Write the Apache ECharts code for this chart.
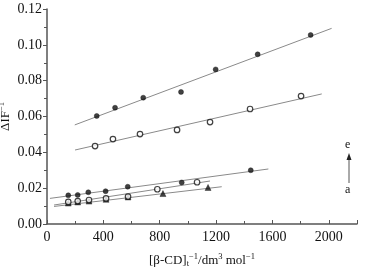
<!DOCTYPE html>
<html><head><meta charset="utf-8">
<script src="https://cdn.jsdelivr.net/npm/echarts@6/dist/echarts.min.js"></script>
<style>html,body{margin:0;padding:0;background:#fff}#c{width:365px;height:267px}</style>
</head><body><div id="c"></div>
<script>
// Series data: [x, y]
const seriesA = [[151,0.0117],[218,0.0123],[298,0.0128],[419,0.0138],[575,0.0151],[823,0.0170],[1143,0.0204]]; // triangles
const seriesB = [[151,0.0123],[218,0.0128],[298,0.0134],[419,0.0143],[575,0.0153],[783,0.0194],[1065,0.0233]]; // open circles
const seriesC = [[151,0.0160],[218,0.0162],[293,0.0177],[416,0.0183],[573,0.0208],[956,0.0232],[1446,0.0300]]; // filled circles
const seriesD = [[341,0.0435],[468,0.0474],[660,0.0502],[923,0.0525],[1157,0.0569],[1441,0.0642],[1803,0.0714]]; // open circles
const seriesE = [[353,0.0603],[483,0.0649],[683,0.0705],[951,0.0737],[1197,0.0863],[1495,0.0947],[1871,0.1055]]; // filled circles
// Fitted line end points
const fitA = [[50,0.0098],[1240,0.0208]];
const fitB = [[50,0.0106],[1157,0.0240]];
const fitC = [[21,0.0143],[1571,0.0307]];
const fitD = [[199,0.0413],[1950,0.0726]];
const fitE = [[197,0.0553],[2020,0.1092]];
const xTicks = {min:0, max:2200, interval:400};
const yTicks = {min:0, max:0.12, interval:0.02};

const chart = echarts.init(document.getElementById('c'), null, {renderer:'canvas'});
const F = 'Liberation Serif';
const axisCol = '#555';
function fit(d){return {type:'line', data:d, symbol:'none', lineStyle:{color:'#8a8a8a', width:1}, z:1, silent:true};}
function pts(d, sym, filled, size){
  return {type:'scatter', data:d, symbol:sym, symbolSize:size,
    itemStyle: filled ? {color:'#111', borderColor:'#111', borderWidth:0.5} : {color:'#fff', borderColor:'#111', borderWidth:1.2}, z:3};
}
const rich = {
  n:{fontFamily:F, fontSize:13, color:'#111'},
  sup:{fontFamily:F, fontSize:8.5, color:'#111', padding:[0,0,8,0]},
  sub:{fontFamily:F, fontSize:8.5, color:'#111', padding:[6,0,0,0]}
};
chart.setOption({
  animation:false,
  grid:{left:47, right:8, top:9, bottom:43, containLabel:false, outerBoundsMode:'none'},
  xAxis:{type:'value', min:xTicks.min, max:xTicks.max, interval:xTicks.interval,
    axisLine:{lineStyle:{color:axisCol, width:1.5}},
    axisTick:{inside:true, length:4, lineStyle:{color:axisCol}},
    minorTick:{show:true, splitNumber:2, length:3, lineStyle:{color:axisCol}},
    splitLine:{show:false},
    axisLabel:{fontFamily:F, fontSize:14, color:'#111', margin:6, showMaxLabel:false, formatter:v=>String(v)},
    name:'{n|[β-CD]}{sub|t}{sup|−1}{n|/dm}{sup|3}{n| mol}{sup|−1}', nameLocation:'middle', nameGap:28,
    nameMoveOverlap:false,
    nameTextStyle:{rich:rich}
  },
  yAxis:{type:'value', min:yTicks.min, max:yTicks.max, interval:yTicks.interval,
    axisLine:{show:true, lineStyle:{color:axisCol, width:1.5}},
    axisTick:{show:true, inside:false, length:4, lineStyle:{color:axisCol}},
    minorTick:{show:true, splitNumber:2, length:3, lineStyle:{color:axisCol}},
    splitLine:{show:false},
    axisLabel:{fontFamily:F, fontSize:14, color:'#111', margin:5, formatter:v=>v.toFixed(2)},
    name:'{n|ΔIF}{sup|−1}', nameLocation:'middle', nameGap:33, nameRotate:90,
    nameMoveOverlap:false,
    nameTextStyle:{rich:rich}
  },
  graphic:[
    {type:'text', left:345, top:139, style:{text:'e', font:'12px "Liberation Serif"', fill:'#111'}},
    {type:'line', shape:{x1:349, y1:183, x2:349, y2:158}, style:{stroke:'#555', lineWidth:1}},
    {type:'polygon', shape:{points:[[346.5,160],[351.5,160],[349,153]]}, style:{fill:'#222'}},
    {type:'text', left:345, top:184, style:{text:'a', font:'12px "Liberation Serif"', fill:'#111'}}
  ],
  series:[
    fit(fitA), fit(fitB), fit(fitC), fit(fitD), fit(fitE),
    pts(seriesA,'triangle',true,6),
    pts(seriesB,'circle',false,5.5),
    pts(seriesC,'circle',true,5),
    pts(seriesD,'circle',false,5.5),
    pts(seriesE,'circle',true,5)
  ]
});
</script></body></html>
